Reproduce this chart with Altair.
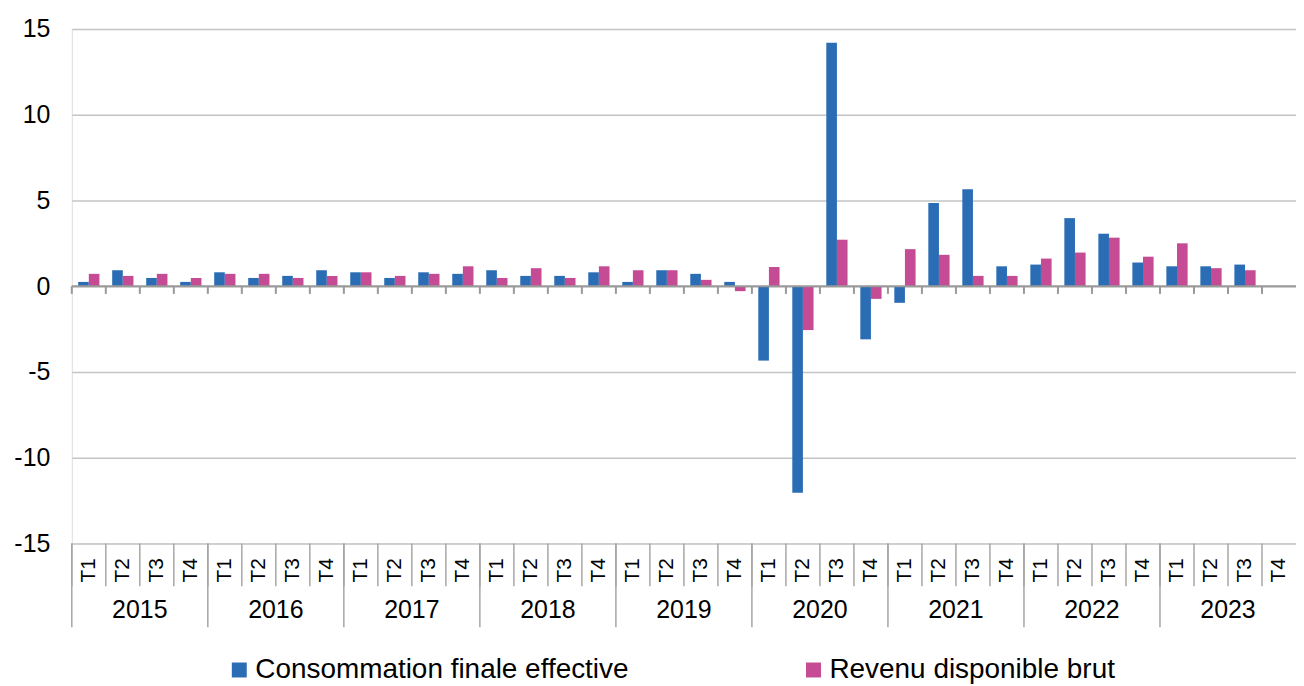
import altair as alt
import pandas as pd

# ---- data ----
years = ["2015", "2016", "2017", "2018", "2019", "2020", "2021", "2022", "2023"]
quarters = ["T1", "T2", "T3", "T4"]
series_names = ["Consommation finale effective", "Revenu disponible brut"]
colors = ["#2B6DB5", "#C54B94"]

consommation = [0.25, 0.93, 0.48, 0.25,
                0.81, 0.48, 0.60, 0.93,
                0.81, 0.48, 0.81, 0.72,
                0.93, 0.60, 0.60, 0.81,
                0.25, 0.93, 0.72, 0.25,
                -4.34, -12.05, 14.2, -3.10,
                -0.97, 4.85, 5.66, 1.16,
                1.26, 3.97, 3.06, 1.38,
                1.16, 1.16, 1.26, None]
revenu = [0.72, 0.60, 0.72, 0.48,
          0.72, 0.72, 0.48, 0.60,
          0.81, 0.60, 0.72, 1.16,
          0.48, 1.05, 0.48, 1.16,
          0.93, 0.93, 0.37, -0.29,
          1.12, -2.56, 2.71, -0.74,
          2.16, 1.83, 0.60, 0.60,
          1.61, 1.96, 2.83, 1.72,
          2.50, 1.05, 0.93, None]
y_ticks = [-15, -10, -5, 0, 5, 10, 15]

# ---- tables ----
keys = [f"{y}-{q}" for y in years for q in quarters]
rows = []
for i, k in enumerate(keys):
    for name, vals in zip(series_names, [consommation, revenu]):
        if vals[i] is not None:
            rows.append({"key": k, "serie": name, "valeur": vals[i]})
bars_df = pd.DataFrame(rows)

cat_df = pd.DataFrame({
    "key": keys,
    "annee": [y for y in years for q in quarters],
    "trim": quarters * len(years),
})
cat_df["valeur"] = 0.0
cat_df["valeur2"] = -0.45
year_start_df = cat_df[cat_df["trim"] == "T1"].copy()
year_label_df = pd.DataFrame({"key": [f"{y}-T3" for y in years], "annee": years})
zero_df = pd.DataFrame({"valeur": [0.0]})

W, H = 1228, 516
FONT = "Liberation Sans"

x_scale = alt.Scale(type="band", domain=keys, paddingInner=0, paddingOuter=0)
y_scale = alt.Scale(domain=[-15, 15], nice=False)

bars = alt.Chart(bars_df).mark_bar().encode(
    x=alt.X("key:N", scale=x_scale, axis=None),
    xOffset=alt.XOffset("serie:N", sort=series_names,
                        scale=alt.Scale(paddingOuter=0.6, paddingInner=0)),
    y=alt.Y("valeur:Q", scale=y_scale,
            axis=alt.Axis(values=y_ticks, grid=True, gridColor="#c4c4c4", gridWidth=1.5,
                          domain=False, ticks=False, tickSize=0, labelPadding=22,
                          labelFontSize=25, labelFont=FONT, labelColor="black",
                          labelExpr="'' + datum.value", title=None)),
    color=alt.Color("serie:N", sort=series_names,
                    scale=alt.Scale(domain=series_names, range=colors),
                    legend=alt.Legend(orient="none", legendX=154, legendY=629,
                                      direction="horizontal", title=None,
                                      symbolType="square", symbolSize=225,
                                      symbolStrokeWidth=0, labelFontSize=28,
                                      labelFont=FONT, labelColor="black",
                                      labelLimit=600, labelOffset=2,
                                      columnPadding=171, padding=0)),
)

zero_line = alt.Chart(zero_df).mark_rule(color="#999999", strokeWidth=2).encode(
    y=alt.Y("valeur:Q", scale=y_scale)
)

zero_ticks = alt.Chart(cat_df).mark_rule(color="#999999", strokeWidth=2).encode(
    x=alt.X("key:N", scale=x_scale, bandPosition=0),
    y=alt.Y("valeur:Q", scale=y_scale),
    y2="valeur2:Q",
)

quarter_sep = alt.Chart(cat_df).mark_rule(color="#a6a6a6", strokeWidth=1.5).encode(
    x=alt.X("key:N", scale=x_scale, bandPosition=0),
    y=alt.value(H),
    y2=alt.value(H + 43),
)

year_sep = alt.Chart(year_start_df).mark_rule(color="#a6a6a6", strokeWidth=1.5).encode(
    x=alt.X("key:N", scale=x_scale, bandPosition=0),
    y=alt.value(H),
    y2=alt.value(H + 84),
)

quarter_labels = alt.Chart(cat_df).mark_text(
    angle=270, fontSize=21, font=FONT, color="black", baseline="middle", align="center"
).encode(
    x=alt.X("key:N", scale=x_scale),
    y=alt.value(H + 27),
    text="trim:N",
)

year_labels = alt.Chart(year_label_df).mark_text(
    fontSize=25, font=FONT, color="black", baseline="middle", align="center"
).encode(
    x=alt.X("key:N", scale=x_scale, bandPosition=0),
    y=alt.value(H + 67),
    text="annee:N",
)

chart = alt.layer(
    bars, zero_line, zero_ticks, quarter_sep, year_sep, quarter_labels, year_labels
).properties(
    width=W, height=H,
    autosize=alt.AutoSizeParams(type="none"),
    padding={"left": 64, "top": 20, "right": 0, "bottom": 140},
).configure_view(stroke=None).configure(background="white")

chart.save("out.html", embed_options={"renderer": "svg", "actions": False})
